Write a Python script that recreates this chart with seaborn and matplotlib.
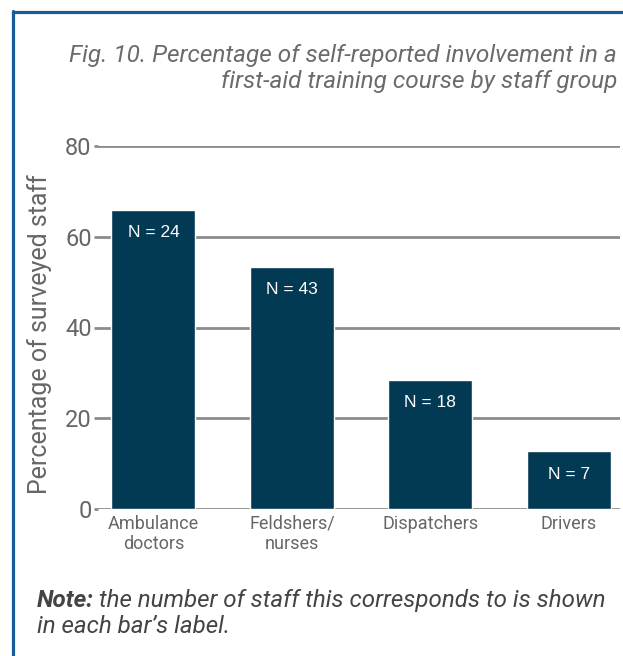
import matplotlib
matplotlib.use("Agg")
import matplotlib.pyplot as plt
from matplotlib.lines import Line2D
import seaborn as sns
import pandas as pd

# Staff groups, share who reported taking a first-aid course, and head counts
groups = ["Ambulance\ndoctors", "Feldshers/\nnurses", "Dispatchers", "Drivers"]
percent_involved = [65.9, 53.4, 28.5, 12.7]
staff_counts = [24, 43, 18, 7]
y_ticks = [0, 20, 40, 60, 80]

df = pd.DataFrame({"group": groups, "pct": percent_involved})

sns.set_theme(style="white")
plt.rcParams["font.family"] = ["Roboto", "DejaVu Sans"]

BAR = "#033a53"
GRID = "#8c8c8c"
TEXT = "#666666"
FRAME = "#1b5c98"
W, H = 623, 656


def fx(px):
    return px / W


def fy(py):
    return 1 - py / H


fig = plt.figure(figsize=(W / 100, H / 100), dpi=100)
fig.patch.set_facecolor("white")
ax = fig.add_axes([fx(98), fy(509), (620 - 98) / W, 363 / H])

sns.barplot(data=df, x="group", y="pct", color=BAR, saturation=1,
            width=0.606, ax=ax)

ax.set_ylim(0, 80)
ax.set_xlim(-0.4, 3.37)
ax.set_yticks(y_ticks)
ax.set_axisbelow(True)
ax.yaxis.grid(True, color=GRID, linewidth=2)
ax.xaxis.grid(False)
for s in ax.spines.values():
    s.set_visible(False)
ax.tick_params(axis="y", left=True, length=3, width=2, color=GRID, pad=1.5,
               labelsize=17, labelcolor=TEXT)
ax.tick_params(axis="x", length=0, pad=4, labelsize=13, labelcolor=TEXT)
ax.set_xlabel("")
ax.set_ylabel("")

fig.text(fx(40), fy(334), "Percentage of surveyed staff", rotation=90,
         ha="center", va="center", fontsize=18, color=TEXT)

for i, (v, n) in enumerate(zip(percent_involved, staff_counts)):
    ax.annotate(f"N = {n}", xy=(i, v), xytext=(0, -23),
                textcoords="offset pixels", ha="center", va="center",
                color="white", fontsize=12.5, family="Liberation Sans")

title_kw = dict(ha="right", va="baseline", fontsize=17.6, style="italic",
                color="#6b6b6b")
fig.text(fx(617), fy(62),
         "Fig. 10. Percentage of self-reported involvement in a", **title_kw)
fig.text(fx(617), fy(88), "first-aid training course by staff group",
         **title_kw)

note_kw = dict(ha="left", va="baseline", fontsize=17.4, style="italic",
               color="#444444")
lead = fig.text(fx(37), fy(607), "Note:", weight="bold", **note_kw)
renderer = fig.canvas.get_renderer()
bb = lead.get_window_extent(renderer)
fig.text(fx(bb.x1 + 5), fy(607),
         "the number of staff this corresponds to is shown", **note_kw)
fig.text(fx(37), fy(633), "in each bar\u2019s label.", **note_kw)

# Frame accents along the top and left edges
fig.add_artist(Line2D([fx(13), 1], [fy(11.5)] * 2, color=FRAME,
                      linewidth=2.3, transform=fig.transFigure))
fig.add_artist(Line2D([fx(13)] * 2, [0, fy(10.5)], color=FRAME,
                      linewidth=2.3, transform=fig.transFigure))

fig.savefig("out.png", dpi=100, facecolor="white")
